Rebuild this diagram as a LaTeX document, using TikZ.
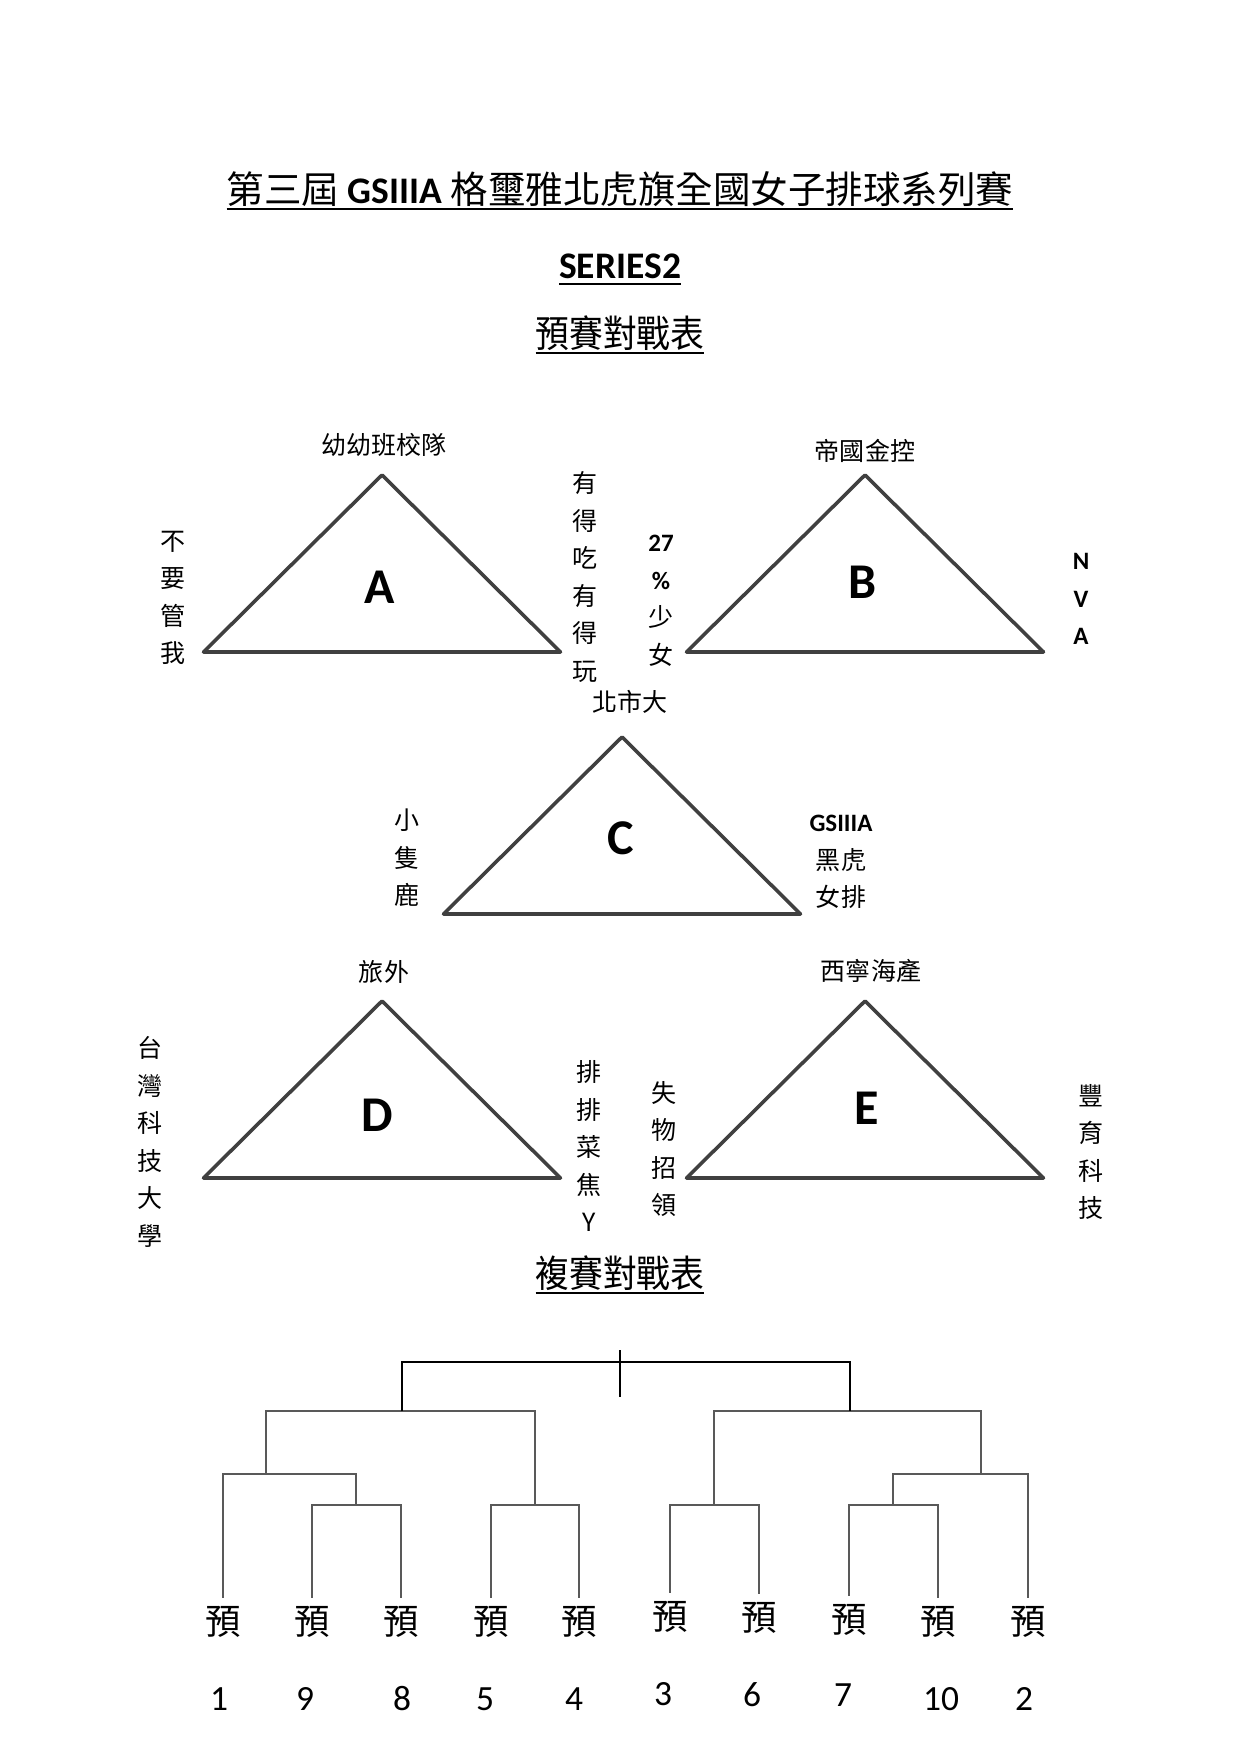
\documentclass[tikz,border=0pt]{standalone}
\usepackage{fontspec}
\setmainfont{Carlito}
\newfontfamily\cjk{Noto Sans CJK TC}
\newfontfamily\cjkhead[FakeStretch=0.9]{Noto Sans CJK TC}
\newcommand\ulin[1]{\leavevmode\setbox0\hbox{#1}\rlap{\rule[-3.4pt]{\wd0}{1pt}}\box0}

\begin{document}
\begin{tikzpicture}[x=0.4797pt,y=-0.4797pt,
 tri/.style={draw=black!75,line width=1.7pt,line join=round},
 team/.style={font=\fontsize{12}{12}\selectfont\cjk,inner sep=0pt},
 side/.style={font=\fontsize{12}{18}\selectfont\cjk,align=center,inner sep=0pt},
 pool/.style={font=\fontsize{24}{24}\selectfont\bfseries,inner sep=0pt},
 pre/.style={font=\fontsize{17}{17}\selectfont\cjk,inner sep=2.5pt,text height=15pt,text depth=2pt},
 seed/.style={font=\fontsize{17}{17}\selectfont,inner sep=0pt},
 bracket/.style={draw=black!65,line width=1pt},
 final/.style={draw=black,line width=1.1pt}]
\useasboundingbox[fill=white] (0,0) rectangle (1241,1755);
\def\bw{178.5}
\def\bh{177}

%headings
\node[anchor=base,font=\fontsize{18}{18}\selectfont] (title) at (620,203)
 {\ulin{{\cjk 第三屆} {\bfseries GSIIIA} {\cjk 格璽雅北虎旗全國女子排球系列賽}}};
\node[anchor=base,font=\fontsize{18}{18}\selectfont\bfseries] (series) at (620,278) {\ulin{SERIES2}};
\node[anchor=base,font=\fontsize{18}{18}\selectfont\cjkhead] (prelim) at (620,347) {\ulin{預賽對戰表}};

\begin{scope}[shift={(382,475)}] %group A
\draw[tri] (0,0) -- (\bw,\bh) -- (-\bw,\bh) -- cycle;
\node[pool] (A) at (-2,112) {A};
\node[team] (Atop) at (2,-30) {幼幼班校隊};
\node[side] (Aleft) at (-209,123) {不\\要\\管\\我};
\node[side] (Aright) at (203,102) {有\\得\\吃\\有\\得\\玩};
\end{scope}

\begin{scope}[shift={(865,475)}] %group B
\draw[tri] (0,0) -- (\bw,\bh) -- (-\bw,\bh) -- cycle;
\node[pool] (B) at (-2,107) {B};
\node[team] (Btop) at (0,-24) {帝國金控};
\node[side] (Bleft) at (-204,126) {{\rmfamily\bfseries 27}\\{\rmfamily\bfseries \%}\\少\\女};
\node[side,font=\fontsize{12}{18}\selectfont\bfseries] (Bright) at (216,124) {N\\V\\A};
\end{scope}

\begin{scope}[shift={(622,737)}] %group C
\draw[tri] (0,0) -- (\bw,\bh) -- (-\bw,\bh) -- cycle;
\node[pool] (C) at (-1,101) {C};
\node[team] (Ctop) at (8,-35) {北市大};
\node[side] (Cleft) at (-215,121) {小\\隻\\鹿};
\node[side] (Cright) at (219,125) {{\rmfamily\bfseries GSIIIA}\\黑虎\\女排};
\end{scope}

\begin{scope}[shift={(382,1001)}] %group D
\draw[tri] (0,0) -- (\bw,\bh) -- (-\bw,\bh) -- cycle;
\node[pool] (D) at (-5,114) {D};
\node[team] (Dtop) at (2,-29) {旅外};
\node[side] (Dleft) at (-232,141) {台\\灣\\科\\技\\大\\學};
\node[side] (Dright) at (207,145) {排\\排\\菜\\焦\\Y};
\end{scope}

\begin{scope}[shift={(865,1001)}] %group E
\draw[tri] (0,0) -- (\bw,\bh) -- (-\bw,\bh) -- cycle;
\node[pool] (E) at (2,107) {E};
\node[team] (Etop) at (6,-30) {西寧海產};
\node[side] (Eleft) at (-201,148) {失\\物\\招\\領};
\node[side] (Eright) at (226,151) {豐\\育\\科\\技};
\end{scope}

%knockout
\node[anchor=base,font=\fontsize{18}{18}\selectfont\cjkhead] (knock) at (620,1287) {\ulin{複賽對戰表}};

\node[pre] (p1) at (223,1621) {預};
\node[pre] (p2) at (312,1621) {預};
\node[pre] (p3) at (401,1621) {預};
\node[pre] (p4) at (491,1621) {預};
\node[pre] (p5) at (579,1621) {預};
\node[pre] (p6) at (670,1616) {預};
\node[pre] (p7) at (759,1617) {預};
\node[pre] (p8) at (849,1619) {預};
\node[pre] (p9) at (938,1621) {預};
\node[pre] (p10) at (1028,1621) {預};

\node[seed] (n1) at (219,1699) {1};
\node[seed] (n2) at (305,1699) {9};
\node[seed] (n3) at (402,1699) {8};
\node[seed] (n4) at (485,1699) {5};
\node[seed] (n5) at (574,1699) {4};
\node[seed] (n6) at (663,1694) {3};
\node[seed] (n7) at (752,1695) {6};
\node[seed] (n8) at (843,1695) {7};
\node[seed] (n9) at (941,1699) {10};
\node[seed] (n10) at (1024,1699) {2};

\coordinate (m1) at (356,1505);
\coordinate (m2) at (535,1505);
\coordinate (m3) at (714,1505);
\coordinate (m4) at (893,1505);
\coordinate (m5) at (266,1474);
\coordinate (m6) at (981,1474);
\coordinate (m7) at (402,1411);
\coordinate (m8) at (850,1411);
\coordinate (m9) at (620,1362);
\coordinate (t1) at (620,1350);
\coordinate (t2) at (620,1397);

\draw[bracket] (p2.north) |- (m1) -| (p3.north);
\draw[bracket] (p4.north) |- (m2) -| (p5.north);
\draw[bracket] (p6.north) |- (m3) -| (p7.north);
\draw[bracket] (p8.north) |- (m4) -| (p9.north);
\draw[bracket] (p1.north) |- (m5) -| (m1);
\draw[bracket] (m4) |- (m6) -| (p10.north);
\draw[bracket] (m5) |- (m7) -| (m2);
\draw[bracket] (m3) |- (m8) -| (m6);
\draw[final] (m7) |- (m9) -| (m8);
\draw[final] (t1) -- (t2);
\end{tikzpicture}
\end{document}
